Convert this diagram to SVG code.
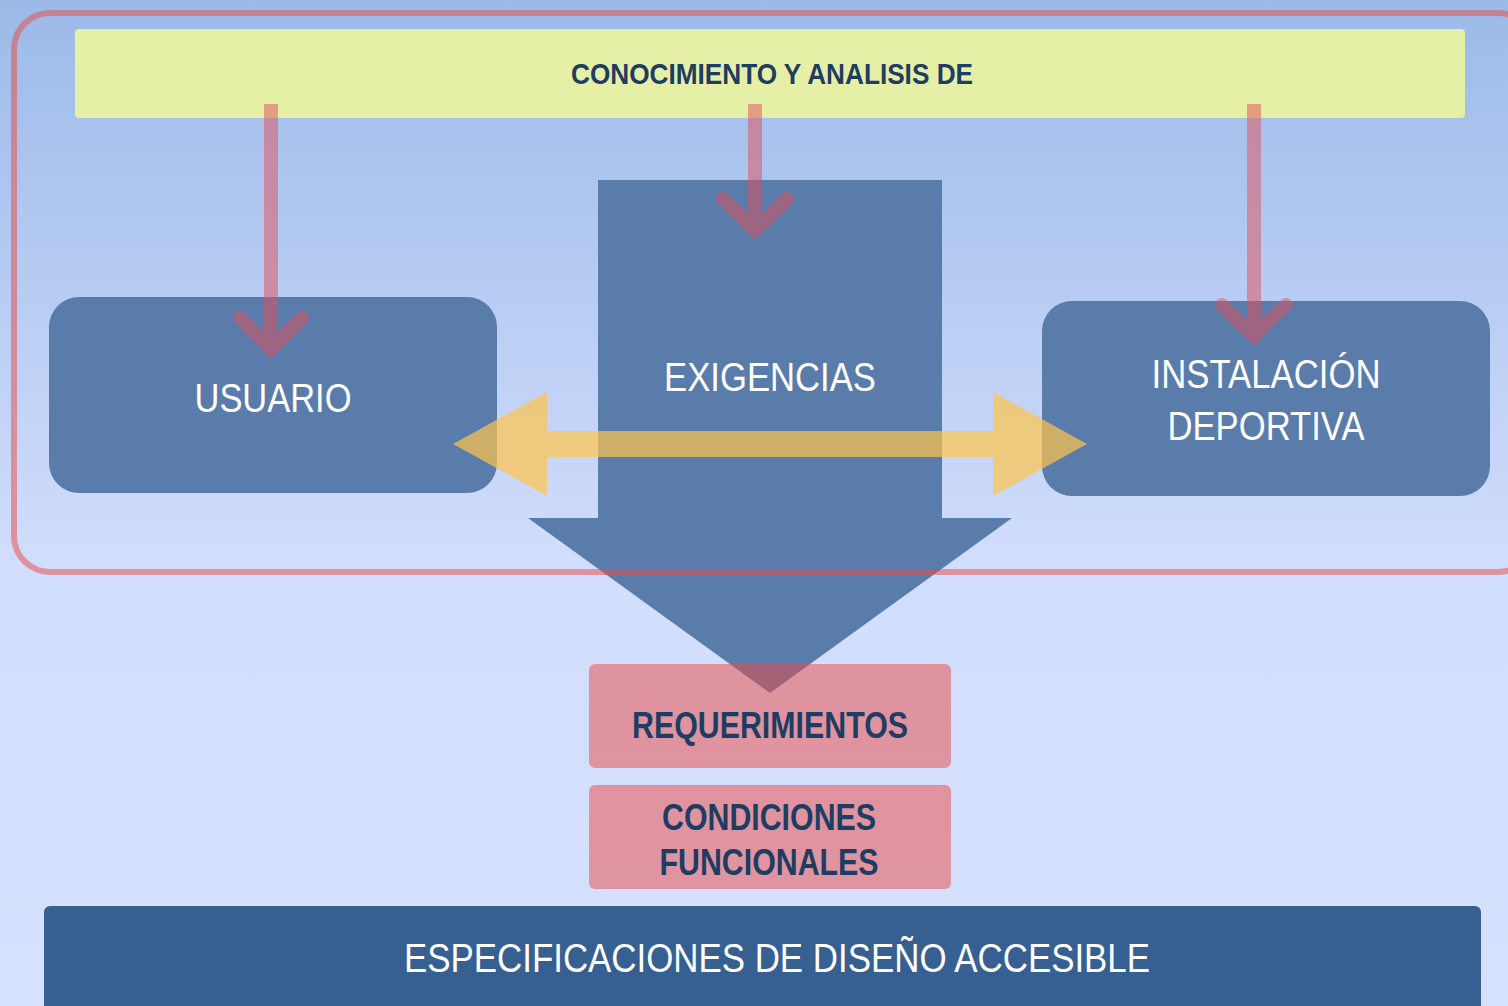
<svg xmlns="http://www.w3.org/2000/svg" width="1508" height="1006" viewBox="0 0 1508 1006">
<defs>
<linearGradient id="bg" x1="0" y1="0" x2="0" y2="1">
<stop offset="0" stop-color="#9cbae8"/>
<stop offset="0.57" stop-color="#d2defd"/>
<stop offset="1" stop-color="#d6e1fe"/>
</linearGradient>
<style>
.t{font-family:"Liberation Sans Narrow","Liberation Sans",Arial,sans-serif;text-anchor:middle}
.w{fill:#ffffff;font-size:41px}
.d{fill:#1f3c63;font-weight:bold}
.box{fill:#5a7cab}
.pink{fill:#ec4842;fill-opacity:0.5}
.conn{opacity:0.5}
.conn path{fill:none;stroke:#e0505a;stroke-width:14}
.conn polyline{fill:none;stroke:#e0505a;stroke-width:14;stroke-linecap:round;stroke-linejoin:miter}
</style>
</defs>
<rect x="0" y="0" width="1508" height="1006" fill="url(#bg)"/>

<g id="conocimiento">
<rect x="75" y="29" width="1390" height="89" rx="4" fill="#e5efa6"/>
<text class="t d" x="772" y="84" font-size="30" textLength="402" lengthAdjust="spacingAndGlyphs">CONOCIMIENTO Y ANALISIS DE</text>
</g>

<g id="exigencias">
<polygon points="598,180 942,180 942,518 1012,518 770,693 528,518 598,518" fill="#5a7cab"/>
<text class="t w" x="770" y="391" textLength="212" lengthAdjust="spacingAndGlyphs">EXIGENCIAS</text>
</g>

<g id="usuario">
<rect class="box" x="49" y="297" width="448" height="196" rx="30"/>
<text class="t w" x="273" y="412" textLength="157" lengthAdjust="spacingAndGlyphs">USUARIO</text>
</g>

<g id="instalacion">
<rect class="box" x="1042" y="301" width="448" height="195" rx="30"/>
<text class="t w" x="1266" y="388" textLength="229" lengthAdjust="spacingAndGlyphs">INSTALACIÓN</text>
<text class="t w" x="1266" y="440" textLength="197" lengthAdjust="spacingAndGlyphs">DEPORTIVA</text>
</g>

<g id="requerimientos">
<rect class="pink" x="589" y="664" width="362" height="104" rx="6"/>
<text class="t d" x="770" y="738" font-size="36" textLength="276" lengthAdjust="spacingAndGlyphs">REQUERIMIENTOS</text>
</g>

<g id="condiciones">
<rect class="pink" x="589" y="785" width="362" height="104" rx="6"/>
<text class="t d" x="769" y="830" font-size="36" textLength="214" lengthAdjust="spacingAndGlyphs">CONDICIONES</text>
<text class="t d" x="769" y="875" font-size="36" textLength="219" lengthAdjust="spacingAndGlyphs">FUNCIONALES</text>
</g>

<g id="especificaciones">
<rect x="44" y="906" width="1437" height="110" rx="6" fill="#365f92"/>
<text class="t w" x="777" y="972" textLength="746" lengthAdjust="spacingAndGlyphs">ESPECIFICACIONES DE DISEÑO ACCESIBLE</text>
</g>

<g id="marco">
<rect x="14" y="13" width="1520" height="559" rx="36" fill="none" stroke="#ec4842" stroke-opacity="0.5" stroke-width="6"/>
</g>

<g id="connectors">
<g class="conn">
<path d="M271 104V345"/>
<polyline points="240,318 271,349 302,318"/>
</g>
<g class="conn">
<path d="M755 104V225"/>
<polyline points="723,199 755,230 787,199"/>
</g>
<g class="conn">
<path d="M1254 104V330"/>
<polyline points="1222,305 1254,336 1286,305"/>
</g>
<polygon points="453,444 547,392 547,431 993,431 993,392 1087,444 993,496 993,457 547,457 547,496" fill="#ffc44a" fill-opacity="0.7"/>
</g>
</svg>
